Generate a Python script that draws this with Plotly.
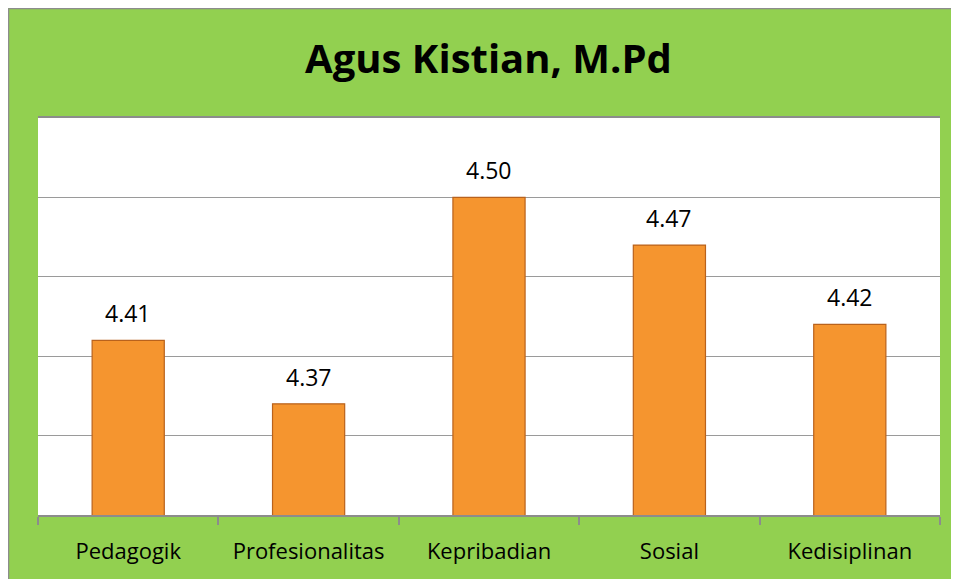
import plotly.graph_objects as go

# data
categories = ["Pedagogik", "Profesionalitas", "Kepribadian", "Sosial", "Kedisiplinan"]
scores = [4.41, 4.37, 4.50, 4.47, 4.42]
title_text = "Agus Kistian, M.Pd"

# the page body adds an 8px offset, so figure coords = page coords - 8
W, H = 951, 571
ml, mr, mt, mb = 30, 19, 110, 64
pw, ph = W - ml - mr, H - mt - mb

def px_x(p):
    return (p - ml) / pw

def px_y(p):
    return (H - mb - p) / ph

fig = go.Figure()
fig.add_trace(go.Bar(
    x=categories,
    y=scores,
    width=0.4,
    marker=dict(color="#F5952F", line=dict(color="#B9621C", width=1.2)),
    hoverinfo="x+y",
))

# value labels above bars
for c, v in zip(categories, scores):
    fig.add_annotation(x=c, y=v, text=f"{v:.2f}", showarrow=False,
                       yanchor="bottom", yshift=9,
                       font=dict(family="Open Sans", size=23, color="black"))

# thin grey border on the top and left edge of the chart only
border = dict(color="#8C8C8C", width=1.5)
fig.add_shape(type="line", xref="paper", yref="paper", layer="below",
              x0=px_x(0.5), x1=px_x(W + 20), y0=px_y(0.5), y1=px_y(0.5), line=border)
fig.add_shape(type="line", xref="paper", yref="paper", layer="below",
              x0=px_x(0.5), x1=px_x(0.5), y0=px_y(0.5), y1=px_y(H + 20), line=border)

fig.update_layout(
    width=W, height=H,
    margin=dict(l=ml, r=mr, t=mt, b=mb),
    paper_bgcolor="#92D050",
    plot_bgcolor="white",
    showlegend=False,
    title=dict(text=f"<b>{title_text}</b>", x=480.5 / W, xanchor="center",
               y=1 - 51 / H, yanchor="middle", yref="container",
               font=dict(family="Open Sans", size=40, color="black")),
    font=dict(family="Open Sans", size=22, color="black"),
)
fig.update_yaxes(range=[4.30, 4.55], dtick=0.05, tick0=4.30, showticklabels=False,
                 showgrid=True, gridcolor="#9A9A9A", gridwidth=1.2,
                 zeroline=False, showline=False)
fig.update_xaxes(showline=True, mirror=True, linecolor="#8C8C8C", linewidth=1.5,
                 ticks="outside", tickson="boundaries", ticklen=8,
                 tickcolor="#8C8C8C", tickwidth=1.5,
                 tickfont=dict(family="Open Sans", size=22, color="black"),
                 ticklabelstandoff=16)

fig.write_html("out.html")
